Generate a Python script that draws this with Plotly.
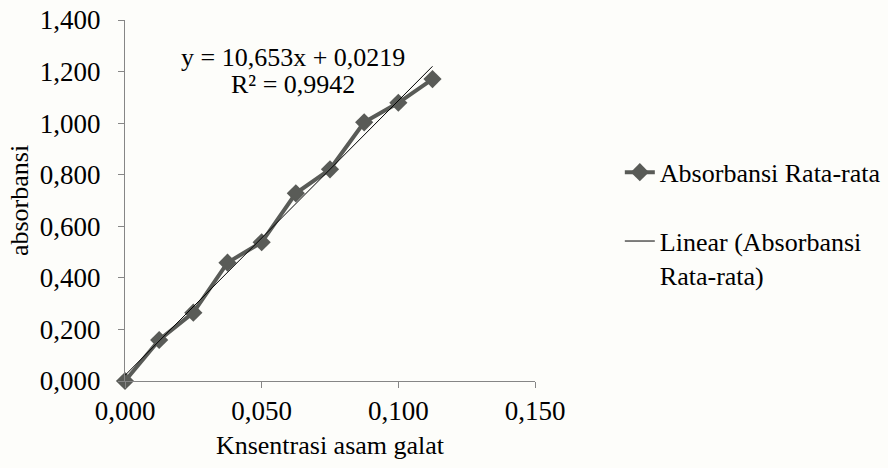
import plotly.graph_objects as go

konsentrasi = [0.0, 0.0125, 0.025, 0.0375, 0.05, 0.0625, 0.075, 0.0875, 0.1, 0.1125]
absorbansi = [0.0, 0.159, 0.265, 0.459, 0.538, 0.728, 0.821, 1.003, 1.079, 1.171]
slope = 10.653
intercept = 0.0219
r2_text = "R² = 0,9942"
eq_text = "y = 10,653x + 0,0219"
x_ticks = [0.0, 0.05, 0.1, 0.15]
y_ticks = [0.0, 0.2, 0.4, 0.6, 0.8, 1.0, 1.2, 1.4]

trend_x = [konsentrasi[0], konsentrasi[-1]]
trend_y = [slope * v + intercept for v in trend_x]

FONT = "Liberation Serif"
AX = "#868686"

fig = go.Figure()
fig.add_trace(go.Scatter(
    x=konsentrasi, y=absorbansi, mode="lines+markers",
    name="Absorbansi Rata-rata", legendgroup="a",
    line=dict(color="#595b57", width=4),
    marker=dict(symbol="diamond", size=14, color="#595b57"),
    cliponaxis=False,
))
fig.add_trace(go.Scatter(
    x=trend_x, y=trend_y, mode="lines",
    name="Linear (Absorbansi<br>Rata-rata)", legendgroup="b",
    line=dict(color="black", width=1),
    cliponaxis=False,
))

fig.add_annotation(
    x=0.0615, y=1.2565, xref="x", yref="y",
    text=eq_text, showarrow=False,
    font=dict(family=FONT, size=26, color="black"), align="center",
)
fig.add_annotation(
    x=0.0615, y=1.148, xref="x", yref="y",
    text=r2_text, showarrow=False,
    font=dict(family=FONT, size=26, color="black"), align="center",
)

fig.update_layout(
    width=888, height=468,
    margin=dict(l=125, r=353, t=20, b=87),
    paper_bgcolor="#fdfdfa", plot_bgcolor="#fdfdfa",
    separators=",.",
    font=dict(family=FONT, size=26, color="black"),
    showlegend=True,
    legend=dict(
        xref="container", yref="container",
        x=0.698, y=0.682, xanchor="left", yanchor="top", valign="top",
        font=dict(family=FONT, size=26, color="black"),
        bgcolor="rgba(0,0,0,0)", tracegroupgap=32, itemwidth=30,
    ),
    xaxis=dict(
        range=[0, 0.15], tickvals=x_ticks, tickformat=".3f", automargin=False,
        showgrid=False, zeroline=False, showline=True, linecolor=AX, linewidth=1,
        ticks="outside", ticklen=6, tickcolor=AX, ticklabeloverflow="allow",
        tickfont=dict(family=FONT, size=27),
        title=dict(text="Knsentrasi asam galat", font=dict(family=FONT, size=26), standoff=10),
    ),
    yaxis=dict(
        range=[0, 1.4], tickvals=y_ticks, tickformat=".3f", automargin=False,
        showgrid=False, zeroline=False, showline=True, linecolor=AX, linewidth=1,
        ticks="outside", ticklen=6, tickcolor=AX, ticklabeloverflow="allow",
        ticklabelstandoff=12, tickfont=dict(family=FONT, size=27),
        title=dict(text="absorbansi", font=dict(family=FONT, size=26), standoff=3),
    ),
)

# remove the page's default body margin so the 888x468 figure fills the window
fig.write_html("out.html", config={"displayModeBar": False},
               post_script="document.body.style.margin='0';")
